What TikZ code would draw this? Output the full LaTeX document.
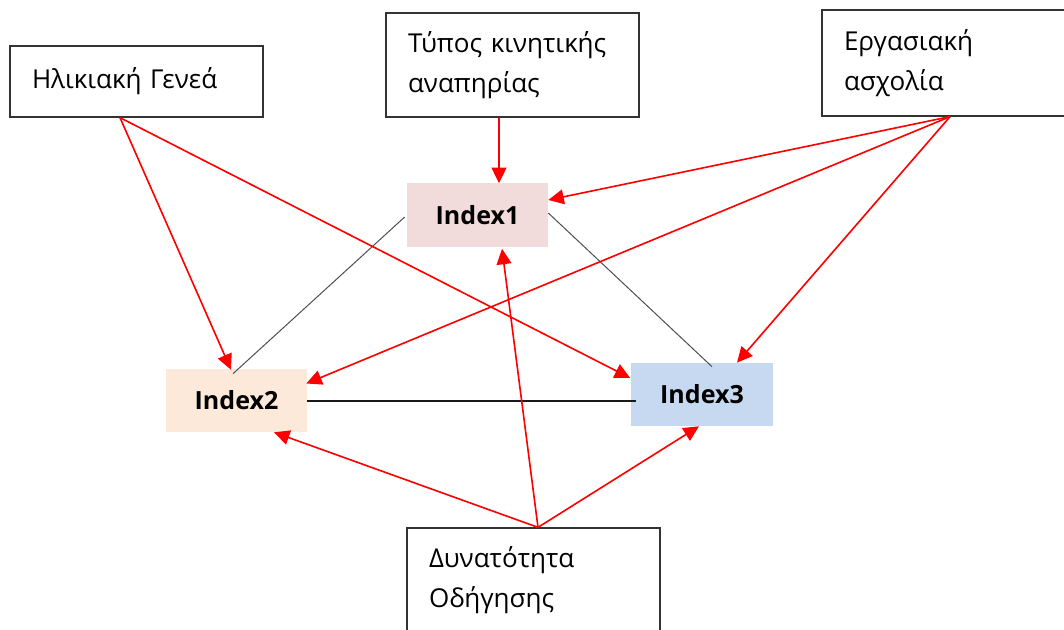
\documentclass[tikz,border=0pt]{standalone}
\usepackage{fontspec}
\setmainfont{Open Sans}
\usetikzlibrary{arrows.meta,calc}

\definecolor{idxpink}{HTML}{F2DCDB}
\definecolor{idxpeach}{HTML}{FDE9D9}
\definecolor{idxblue}{HTML}{C6D9F1}

\tikzset{
  factor/.style={draw=black!80, line width=0.9pt, rectangle, align=left,
    inner xsep=15.6pt, text width=148.6pt, minimum width=6.325cm,
    font=\fontsize{18.5}{28.4}\selectfont},
  index/.style={rectangle, minimum width=3.525cm, minimum height=1.575cm,
    font=\fontsize{17.8}{20}\selectfont\bfseries},
  effect/.style={draw=red, line width=1.15pt, -{Triangle[length=11pt,width=10.5pt]}},
  link/.style={draw=black!70, line width=0.7pt}
}

\begin{document}
\begin{tikzpicture}[x=0.025cm, y=-0.025cm]
  \useasboundingbox (0,0) rectangle (1064,630);

  \node[factor, minimum height=1.775cm] (gen) at (136.5,81.5) {Ηλικιακή Γενεά};
  \node[factor, minimum height=2.6cm] (typ) at (512.5,65) {Τύπος κινητικής\\αναπηρίας};
  \node[factor, minimum height=2.65cm] (erg) at (948.5,63) {Εργασιακή\\ασχολία};
  \node[factor, minimum height=2.6cm] (dyn) at (533.5,580) {Δυνατότητα\\Οδήγησης};

  \node[index, fill=idxpink] (i1) at (477.5,215) {Index1};
  \node[index, fill=idxpeach] (i2) at (236.5,400.5) {Index2};
  \node[index, fill=idxblue] (i3) at (702,394.5) {Index3};

  \draw[link] ($(i1.west)+(-2,2)$) -- ($(i2.north)+(-3.5,5)$);
  \draw[link] ($(i1.east)+(0,-2)$) -- ($(i3.north)+(10,4)$);
  \draw[link, draw=black!90, line width=0.9pt] ($(i2.east)+(0,0.5)$) -- ($(i3.west)+(5,6.5)$);

  \coordinate (g0) at ($(gen.south)+(-16.5,0)$);
  \coordinate (t0) at ($(typ.south)+(-13.5,0)$);
  \coordinate (e0) at ($(erg.south)+(1.5,0)$);
  \coordinate (d0) at ($(dyn.north)+(4.5,0)$);

  \draw[effect] (g0) -- ($(i2.north)+(-5.5,1)$);
  \draw[effect] (g0) -- ($(i3.west)+(-1,-16.5)$);
  \draw[effect] (t0) -- ($(i1.north)+(21.5,0)$);
  \draw[effect] (e0) -- ($(i1.east)+(0,-15)$);
  \draw[effect] (e0) -- ($(i2.east)+(-1,-17)$);
  \draw[effect] (e0) -- ($(i3.north)+(35,0)$);
  \draw[effect] (d0) -- ($(i1.south)+(24.5,2)$);
  \draw[effect] (d0) -- ($(i2.south)+(37.5,0)$);
  \draw[effect] (d0) -- ($(i3.south)+(-3,0)$);
\end{tikzpicture}
\end{document}
